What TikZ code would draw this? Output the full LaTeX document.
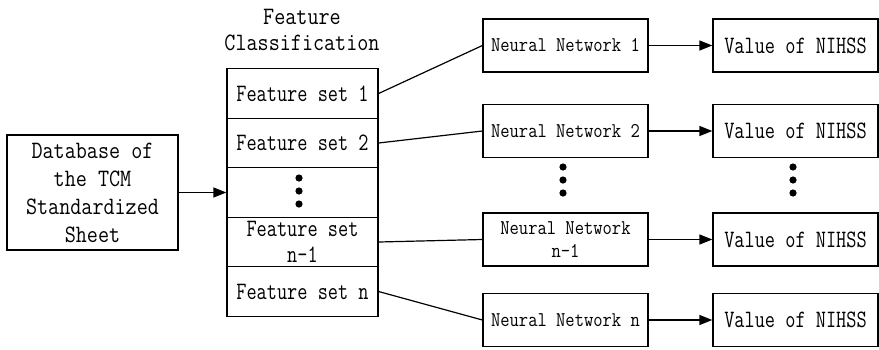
\documentclass[tikz,border=0pt]{standalone}
\usepackage{fontspec}
\newfontfamily\songmono[FakeStretch=0.79]{Latin Modern Mono}
\newfontfamily\songwide[FakeStretch=0.86]{Latin Modern Mono}
\usepackage{tikz}
\usetikzlibrary{arrows.meta}

\begin{document}
\begin{tikzpicture}[x=1pt,y=-1pt,line width=1.2pt,>={Triangle[length=13pt,width=10pt]}]
	\useasboundingbox (0,0) rectangle (879,349);
	\tikzstyle{every node}=[font=\fontsize{25}{26}\selectfont\songwide,align=center,inner sep=0pt];
	\node (title) at (302,30) {Feature\\Classification};
	\tikzstyle{every node}=[draw,font=\fontsize{25}{28}\selectfont\songwide,align=center,inner sep=0pt];
	\node[minimum width=171,minimum height=115] (db) at (92.5,192.5) {Database of\\the TCM\\Standardized\\Sheet};
	\tikzstyle{every node}=[draw,font=\fontsize{25}{26}\selectfont\songmono,align=center,inner sep=0pt,minimum width=151,minimum height=49.5];
	\node (f1) at (302.5,93.5) {Feature set 1};
	\node (f2) at (302.5,143) {Feature set 2};
	\node (f3) at (302.5,192.5) {};
	\node (fm) at (302.5,242) {Feature set\\n-1};
	\node (fn) at (302.5,291.5) {Feature set n};
	\tikzstyle{every node}=[draw,font=\fontsize{21}{23}\selectfont\songwide,align=center,inner sep=0pt,minimum width=165,minimum height=53];
	\node (nn1) at (565.5,45.5) {Neural Network 1};
	\node (nn2) at (565.5,131) {Neural Network 2};
	\node (nnm) at (565.5,239.5) {Neural Network\\n-1};
	\node (nnn) at (565.5,320) {Neural Network n};
	\tikzstyle{every node}=[draw,font=\fontsize{25}{26}\selectfont\songmono,align=center,inner sep=0pt,minimum width=165,minimum height=53];
	\node (v1) at (795.5,45.5) {Value of NIHSS};
	\node (v2) at (795.5,131) {Value of NIHSS};
	\node (vm) at (795.5,239.5) {Value of NIHSS};
	\node (vn) at (795.5,320) {Value of NIHSS};
	% dots
	\fill (299,178) circle (3.6pt) (299,191) circle (3.6pt) (299,204) circle (3.6pt);
	\fill (563,167) circle (3.6pt) (563,180) circle (3.6pt) (563,193) circle (3.6pt);
	\fill (793,167) circle (3.6pt) (793,180) circle (3.6pt) (793,193) circle (3.6pt);
	\draw[->] (db.east)--(f3.west);
	\draw	(f1.east)--(nn1.west) (f2.east)--(nn2.west)
			(fm.east)--(nnm.west) (fn.east)--(nnn.west);
	\draw[->] (nn1.east)--(v1.west);
	\draw[->] (nn2.east)--(v2.west);
	\draw[->] (nnm.east)--(vm.west);
	\draw[->] (nnn.east)--(vn.west);
\end{tikzpicture}
\end{document}
